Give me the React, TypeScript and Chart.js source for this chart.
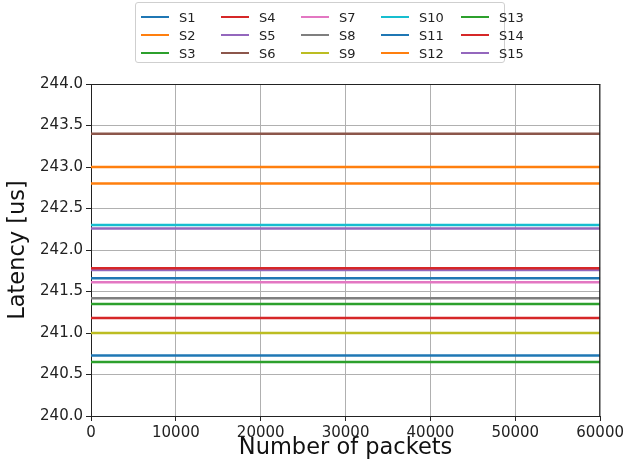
import React, { useEffect, useRef } from "react";
import { Chart, registerables } from "chart.js";

Chart.register(...registerables);

const seriesNames = ["S1", "S2", "S3", "S4", "S5", "S6", "S7", "S8", "S9", "S10", "S11", "S12", "S13", "S14", "S15"];
const seriesColors = [
  "#1f77b4", "#ff7f0e", "#2ca02c", "#d62728", "#9467bd",
  "#8c564b", "#e377c2", "#7f7f7f", "#bcbd22", "#17becf",
  "#1f77b4", "#ff7f0e", "#2ca02c", "#d62728", "#9467bd",
];
// latency level of each series (us)
const seriesLatency = [241.66, 243.0, 241.35, 241.78, 242.26, 243.4, 241.61, 241.42, 241.0, 242.3, 240.73, 242.8, 240.65, 241.18, 241.76];
// packet range sampled
const packets = [0, 60000];
const yTicks = [240.0, 244.0, 0.5];
const xTicks = [0, 60000, 10000];

const FONT = "'DejaVu Sans', sans-serif";

const framePlugin = {
  id: "frame",
  afterDraw(chart: any) {
    const { ctx, chartArea } = chart;
    const { left, top, right, bottom } = chartArea;
    ctx.save();
    ctx.strokeStyle = "#222";
    ctx.lineWidth = 1;
    ctx.beginPath();
    ctx.moveTo(left, top + 0.5);
    ctx.lineTo(right, top + 0.5);
    ctx.moveTo(right - 0.5, top);
    ctx.lineTo(right - 0.5, bottom);
    ctx.stroke();
    ctx.restore();
  },
};

export default function App() {
  const ref = useRef<HTMLCanvasElement | null>(null);

  useEffect(() => {
    document.body.style.margin = "0";
    const canvas = ref.current;
    if (!canvas) return;
    const datasets = seriesNames.map((name, i) => ({
      label: name,
      data: packets.map((p) => ({ x: p, y: seriesLatency[i] })),
      borderColor: seriesColors[i],
      backgroundColor: seriesColors[i],
      borderWidth: 2.5,
      pointRadius: 0,
      fill: false,
    }));
    const chart = new Chart(canvas, {
      type: "line",
      data: { datasets },
      options: {
        animation: false,
        responsive: false,
        maintainAspectRatio: false,
        layout: { padding: { top: 84, right: 25, left: 0, bottom: 0 } },
        plugins: {
          legend: { display: false },
          tooltip: { enabled: false },
        },
        scales: {
          x: {
            type: "linear",
            min: xTicks[0],
            max: xTicks[1],
            afterFit: (s: any) => {
              s.height = 51;
            },
            ticks: {
              stepSize: xTicks[2],
              color: "#222",
              font: { family: FONT, size: 15 },
              padding: 3,
              maxRotation: 0,
              callback: (v: any) => String(v),
            },
            grid: {
              color: "#b0b0b0",
              lineWidth: 1,
              tickColor: "#222",
              tickLength: 5,
            },
            border: { color: "#222", width: 1 },
            title: {
              display: true,
              text: "Number of packets",
              color: "#111",
              font: { family: FONT, size: 22.5 },
              padding: { top: 0, bottom: 5 },
            },
          },
          y: {
            type: "linear",
            min: yTicks[0],
            max: yTicks[1],
            afterFit: (s: any) => {
              s.width = 91;
            },
            ticks: {
              stepSize: yTicks[2],
              color: "#222",
              font: { family: FONT, size: 15 },
              padding: 3,
              callback: (v: any) => Number(v).toFixed(1),
            },
            grid: {
              color: "#b0b0b0",
              lineWidth: 1,
              tickColor: "#222",
              tickLength: 5,
            },
            border: { color: "#222", width: 1 },
            title: {
              display: true,
              text: "Latency [us]",
              color: "#111",
              font: { family: FONT, size: 22.5 },
              padding: { top: 5, bottom: 0 },
            },
          },
        },
      },
      plugins: [framePlugin],
    } as any);
    return () => chart.destroy();
  }, []);

  const legendItems = [0, 1, 2, 3, 4].flatMap((c) => [0, 1, 2].map((r) => c * 3 + r));

  return (
    <div style={{ position: "absolute", left: 0, top: 0, width: 627, height: 467, background: "#fff" }}>
      <canvas ref={ref} width={627} height={467} style={{ position: "absolute", left: 0, top: 0, width: 627, height: 467 }} />
      <div
        style={{
          position: "absolute",
          left: 135,
          top: 2,
          width: 368,
          height: 59,
          border: "1px solid #cfcfcf",
          borderRadius: 3,
          background: "#fff",
          boxSizing: "content-box",
        }}
      >
        {legendItems.map((idx, k) => {
          const col = Math.floor(k / 3);
          const row = k % 3;
          return (
            <div
              key={idx}
              style={{
                position: "absolute",
                left: 5 + col * 80,
                top: 5 + row * 18,
                height: 18,
                display: "flex",
                alignItems: "center",
                fontFamily: FONT,
                fontSize: 13,
                color: "#222",
                whiteSpace: "nowrap",
              }}
            >
              <span style={{ display: "inline-block", width: 28, height: 2, background: seriesColors[idx], marginRight: 10 }} />
              <span>{seriesNames[idx]}</span>
            </div>
          );
        })}
      </div>
    </div>
  );
}
